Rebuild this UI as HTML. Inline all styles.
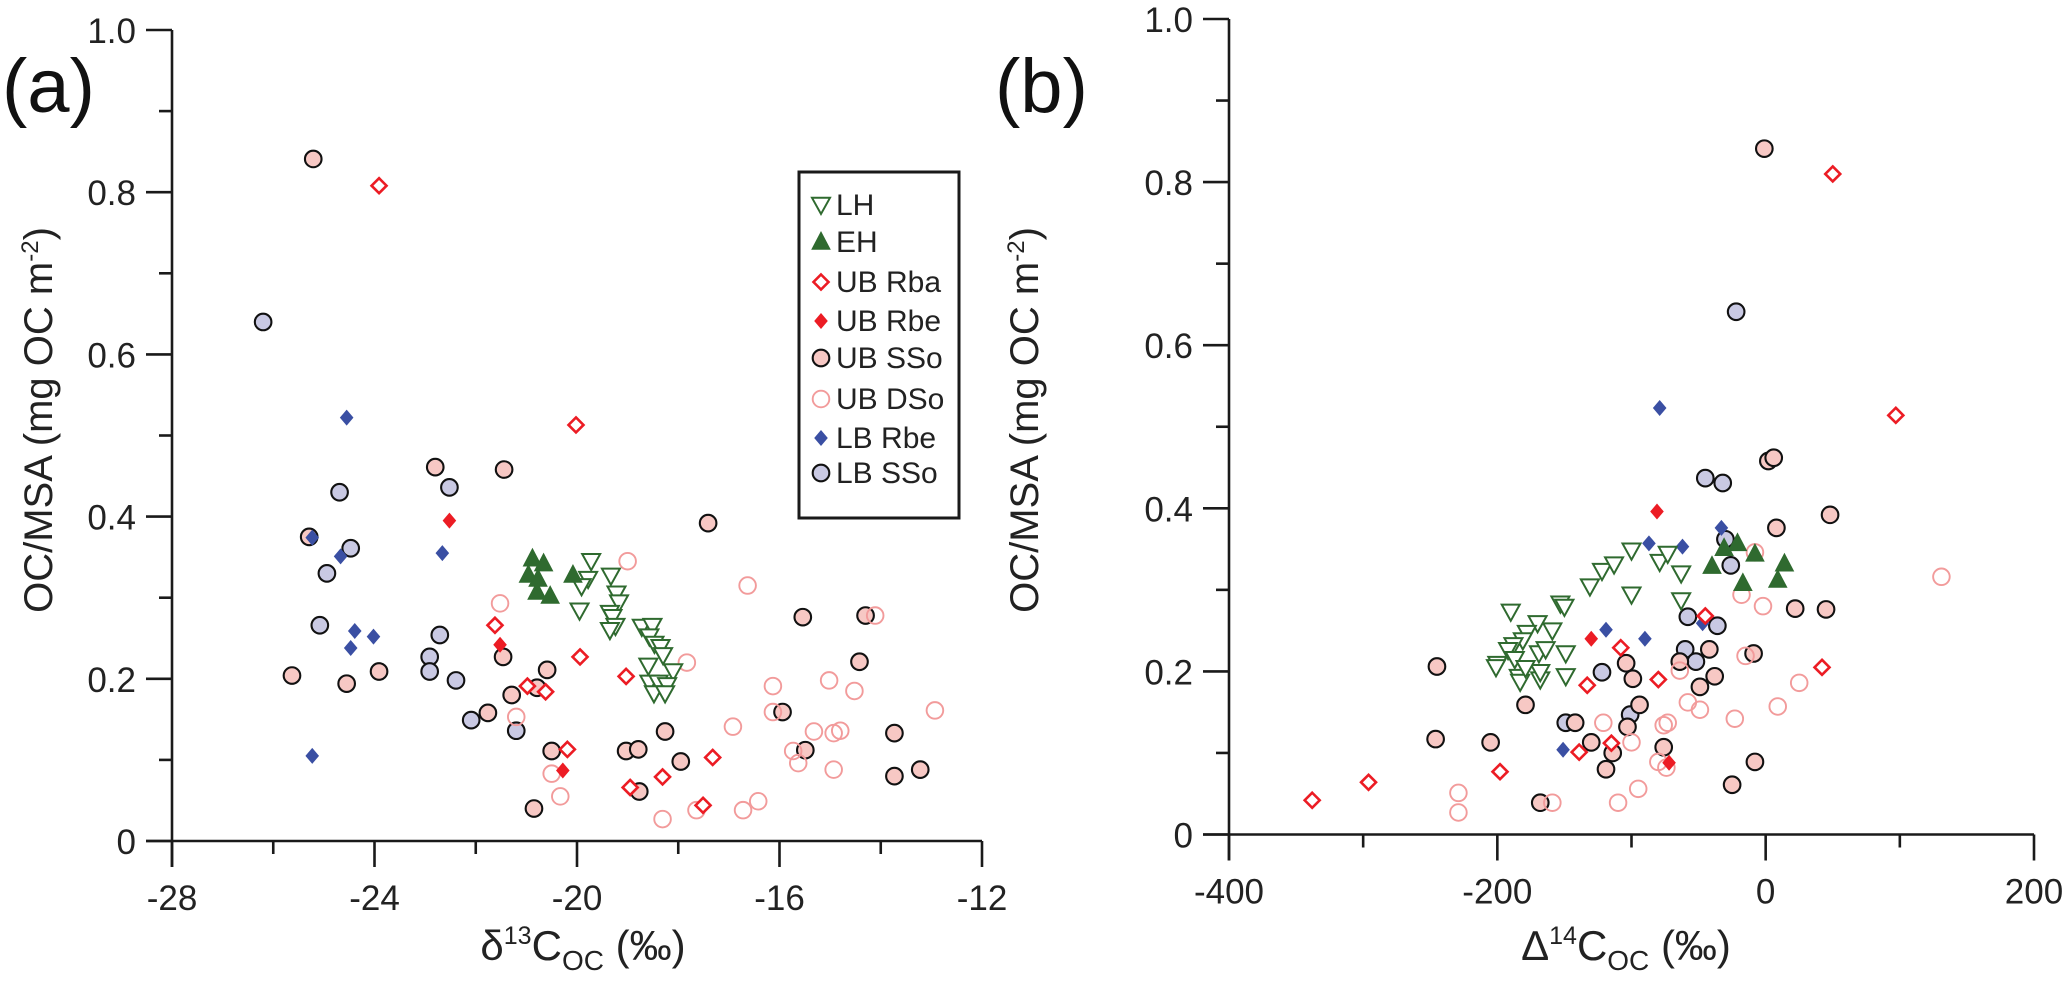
<!DOCTYPE html>
<html><head><meta charset="utf-8"><style>
html,body{margin:0;padding:0;background:#fff;}
svg{display:block;font-family:"Liberation Sans",Arial,sans-serif;}
</style></head><body>
<svg id="chart" width="2066" height="994" viewBox="0 0 2066 994" xmlns="http://www.w3.org/2000/svg"></svg>
<script>
// ---------- data: panel (a) δ13C vs OC/MSA ----------
const aLH_x=[-19.72,-19.78,-19.91,-19.33,-19.22,-19.17,-19.35,-19.30,-19.95,-19.24,-19.35,-18.72,-18.51,-18.57,-18.47,-18.35,-18.30,-18.59,-18.10,-18.57,-18.39,-18.22,-18.48,-18.26];
const aLH_y=[0.345,0.323,0.314,0.327,0.305,0.294,0.281,0.276,0.284,0.265,0.260,0.264,0.265,0.252,0.243,0.239,0.229,0.216,0.209,0.195,0.195,0.192,0.182,0.182];
const aEH_x=[-20.88,-20.66,-20.96,-20.77,-20.79,-20.53,-20.08];
const aEH_y=[0.348,0.342,0.328,0.323,0.307,0.302,0.328];
const aRba_x=[-23.91,-20.02,-21.62,-19.94,-19.03,-20.98,-20.62,-20.19,-18.95,-18.31,-17.32,-17.51];
const aRba_y=[0.808,0.513,0.266,0.227,0.203,0.191,0.184,0.113,0.066,0.079,0.103,0.044];
const aRbe_x=[-22.52,-21.52,-20.28];
const aRbe_y=[0.395,0.242,0.087];
const aSSo_x=[-25.21,-25.29,-22.80,-21.44,-25.63,-24.55,-23.91,-21.76,-21.46,-21.29,-20.59,-20.79,-20.50,-20.85,-19.03,-18.79,-18.77,-18.26,-17.95,-17.41,-15.54,-15.94,-15.49,-14.42,-14.30,-13.73,-13.73,-13.22];
const aSSo_y=[0.841,0.375,0.461,0.458,0.204,0.194,0.209,0.158,0.227,0.180,0.211,0.189,0.111,0.040,0.111,0.113,0.061,0.135,0.098,0.392,0.276,0.159,0.112,0.221,0.278,0.133,0.080,0.088];
const aDSo_x=[-19.00,-21.52,-21.20,-20.50,-20.33,-17.83,-16.92,-16.63,-16.42,-16.72,-17.64,-18.31,-16.13,-16.13,-15.73,-15.63,-15.32,-15.02,-14.93,-14.80,-14.93,-14.52,-14.11,-12.93];
const aDSo_y=[0.345,0.293,0.153,0.083,0.055,0.220,0.141,0.315,0.049,0.038,0.038,0.027,0.191,0.159,0.111,0.096,0.135,0.198,0.133,0.136,0.088,0.185,0.278,0.161];
const aLBRbe_x=[-24.55,-25.23,-24.67,-22.66,-24.39,-24.02,-24.47,-25.23];
const aLBRbe_y=[0.522,0.374,0.351,0.355,0.259,0.252,0.238,0.105];
const aLBSSo_x=[-26.20,-24.69,-24.47,-24.94,-25.08,-22.52,-22.71,-22.91,-22.91,-22.39,-22.09,-21.20];
const aLBSSo_y=[0.640,0.430,0.361,0.330,0.266,0.436,0.254,0.227,0.209,0.198,0.149,0.136];
// ---------- data: panel (b) Δ14C vs OC/MSA ----------
const bLH_x=[-190,-200,-201,-184,-183,-168,-168,-169,-164,-159,-170,-178,-181,-188,-192,-187,-179,-149,-149,-153,-150,-131,-122,-113,-100,-100,-79,-73,-63,-63];
const bLH_y=[0.273,0.209,0.205,0.193,0.187,0.190,0.199,0.222,0.227,0.250,0.259,0.247,0.238,0.232,0.226,0.215,0.204,0.222,0.194,0.283,0.279,0.304,0.323,0.331,0.348,0.294,0.334,0.344,0.320,0.287];
const bEH_x=[-40,-31,-21,-8,-17,14,9];
const bEH_y=[0.329,0.351,0.357,0.344,0.308,0.332,0.312];
const bRba_x=[50,97,-45,42,-108,-80,-133,-115,-139,-198,-296,-338];
const bRba_y=[0.810,0.514,0.268,0.205,0.229,0.190,0.183,0.112,0.101,0.077,0.064,0.042];
const bRbe_x=[-81,-130,-72];
const bRbe_y=[0.396,0.240,0.088];
const bSSo_x=[-1,2,6,8,48,22,45,-9,-42,-64,-104,-99,-49,-38,-94,-103,-142,-179,-245,-246,-205,-130,-114,-119,-76,-168,-25,-8];
const bSSo_y=[0.841,0.458,0.462,0.376,0.392,0.277,0.276,0.222,0.227,0.212,0.210,0.191,0.181,0.194,0.159,0.132,0.137,0.159,0.206,0.117,0.113,0.113,0.100,0.080,0.107,0.039,0.061,0.089];
const bDSo_x=[-8,-18,-2,-15,131,25,9,-23,-58,-49,-64,-76,-73,-80,-74,-121,-100,-95,-110,-159,-229,-229];
const bDSo_y=[0.346,0.294,0.280,0.219,0.316,0.186,0.157,0.142,0.162,0.153,0.201,0.134,0.137,0.089,0.082,0.137,0.113,0.056,0.039,0.039,0.051,0.027];
const bLBRbe_x=[-79,-33,-87,-62,-119,-90,-47,-151];
const bLBRbe_y=[0.523,0.376,0.357,0.353,0.251,0.240,0.259,0.104];
const bLBSSo_x=[-22,-45,-32,-30,-26,-58,-36,-60,-52,-122,-101,-149];
const bLBSSo_y=[0.641,0.437,0.431,0.362,0.330,0.267,0.256,0.227,0.212,0.199,0.147,0.137];
// ticks
const aXTicks=[-28,-24,-20,-16,-12];
const aXMinor=[-26,-22,-18,-14];
const bXTicks=[-400,-200,0,200];
const bXMinor=[-300,-100,100];
const yTicks=[0,0.2,0.4,0.6,0.8,1.0];
const yMinor=[0.1,0.3,0.5,0.7,0.9];
const legendLabels=["LH","EH","UB Rba","UB Rbe","UB SSo","UB DSo","LB Rbe","LB SSo"];

const NS="http://www.w3.org/2000/svg";
const svg=document.getElementById('chart');
function el(tag,attrs,parent){const e=document.createElementNS(NS,tag);for(const k in attrs)e.setAttribute(k,attrs[k]);(parent||svg).appendChild(e);return e;}

const GREEN="#2f6a2f",RED="#ec1c24",BLUE="#3a4fa3",PINK="#f7c8c4",LAV="#c9c9e3",OPINK="#f29b9b";
function drawMarker(g,type,cx,cy){
  let m;
  if(type==="LH"){const s=9;m=el('polygon',{points:`${cx-s},${cy-s*0.8} ${cx+s},${cy-s*0.8} ${cx},${cy+s*1.0}`,fill:'#fff',stroke:GREEN,'stroke-width':2},g);}
  else if(type==="EH"){const s=9;m=el('polygon',{points:`${cx-s},${cy+s*0.8} ${cx+s},${cy+s*0.8} ${cx},${cy-s*1.1}`,fill:GREEN,stroke:GREEN,'stroke-width':1},g);}
  else if(type==="Rba"){const s=7.5;m=el('polygon',{points:`${cx},${cy-s} ${cx+s},${cy} ${cx},${cy+s} ${cx-s},${cy}`,fill:'#fff',stroke:RED,'stroke-width':2.6},g);}
  else if(type==="Rbe"){const s=8;m=el('polygon',{points:`${cx},${cy-s} ${cx+s*0.85},${cy} ${cx},${cy+s} ${cx-s*0.85},${cy}`,fill:RED},g);}
  else if(type==="LBRbe"){const s=8;m=el('polygon',{points:`${cx},${cy-s} ${cx+s*0.85},${cy} ${cx},${cy+s} ${cx-s*0.85},${cy}`,fill:BLUE},g);}
  else if(type==="SSo"){m=el('circle',{cx:cx,cy:cy,r:8.3,fill:PINK,stroke:'#111','stroke-width':2.1},g);}
  else if(type==="DSo"){m=el('circle',{cx:cx,cy:cy,r:8.3,fill:'none',stroke:OPINK,'stroke-width':1.9},g);}
  else if(type==="LBSSo"){m=el('circle',{cx:cx,cy:cy,r:8.3,fill:LAV,stroke:'#111','stroke-width':2.1},g);}
  return m;
}

function panel(cfg){
  const g=el('g',{});
  
  
  const X=v=>cfg.x0+(v-cfg.xmin)*(cfg.x1-cfg.x0)/(cfg.xmax-cfg.xmin);
  const Y=v=>cfg.y0-v*(cfg.y0-cfg.y1);
  const ya=el('line',{x1:cfg.x0,y1:cfg.y1,x2:cfg.x0,y2:cfg.y0+26,stroke:'#1a1a1a','stroke-width':2.6},g);
  
  const xa=el('line',{x1:cfg.x0-26,y1:cfg.y0,x2:cfg.x1,y2:cfg.y0,stroke:'#1a1a1a','stroke-width':2.6},g);
  
  cfg.xt.forEach(v=>{
    el('line',{x1:X(v),y1:cfg.y0,x2:X(v),y2:cfg.y0+26,stroke:'#1a1a1a','stroke-width':2.6},g);
    const t=el('text',{x:X(v),y:cfg.y0+69,'font-size':35,'text-anchor':'middle',fill:'#222'},g);
    t.textContent=String(v);
    
  });
  cfg.xm.forEach(v=>{el('line',{x1:X(v),y1:cfg.y0,x2:X(v),y2:cfg.y0+13,stroke:'#1a1a1a','stroke-width':2.6},g);});
  yTicks.forEach(v=>{
    el('line',{x1:cfg.x0-26,y1:Y(v),x2:cfg.x0,y2:Y(v),stroke:'#1a1a1a','stroke-width':2.6},g);
    const t=el('text',{x:cfg.x0-36,y:Y(v)+13,'font-size':35,'text-anchor':'end',fill:'#222'},g);
    t.textContent=v===0?'0':v.toFixed(1);
    
  });
  yMinor.forEach(v=>{el('line',{x1:cfg.x0-13,y1:Y(v),x2:cfg.x0,y2:Y(v),stroke:'#1a1a1a','stroke-width':2.6},g);});
  cfg.series.forEach(s=>{
    const sg=el('g',{},g);
    
    
    s.x.forEach((xv,i)=>{
      const m=drawMarker(sg,s.type,X(xv),Y(s.y[i]));
      
      
    });
  });
  const xt=el('text',{x:cfg.xtx,y:960,'font-size':42,'text-anchor':'middle',fill:'#222'},g);
  
  xt.innerHTML=cfg.xlabel+'<tspan font-size="25" dy="-16">'+cfg.sup+'</tspan><tspan dy="16">C</tspan><tspan font-size="28" dy="10">OC</tspan><tspan dy="-10"> (‰)</tspan>';
  const yt=el('text',{x:0,y:0,'font-size':40,'text-anchor':'middle',fill:'#222',transform:`translate(${cfg.ytx},${cfg.yty}) rotate(-90)`},g);
  
  yt.innerHTML='OC/MSA (mg OC m<tspan font-size="24" dy="-14">-2</tspan><tspan dy="14">)</tspan>';
  const pl=el('text',{x:cfg.plx,y:112,'font-size':76,fill:'#111'},g);
  pl.textContent=cfg.plabel;
  
}

panel({name:'panel-a',x0:172,x1:982,xmin:-28,xmax:-12,y0:841,y1:30,xt:aXTicks,xm:aXMinor,
  xlabel:'δ',sup:'13',xtx:583,ytx:52,yty:420,plabel:'(a)',plx:2,
  series:[
    {name:'lb-sso',type:'LBSSo',x:aLBSSo_x,y:aLBSSo_y},
    {name:'ub-sso',type:'SSo',x:aSSo_x,y:aSSo_y},
    {name:'ub-dso',type:'DSo',x:aDSo_x,y:aDSo_y},
    {name:'lb-rbe',type:'LBRbe',x:aLBRbe_x,y:aLBRbe_y},
    {name:'ub-rba',type:'Rba',x:aRba_x,y:aRba_y},
    {name:'ub-rbe',type:'Rbe',x:aRbe_x,y:aRbe_y},
    {name:'lh',type:'LH',x:aLH_x,y:aLH_y},
    {name:'eh',type:'EH',x:aEH_x,y:aEH_y}
  ]});
panel({name:'panel-b',x0:1229,x1:2034,xmin:-400,xmax:200,y0:834.5,y1:19,xt:bXTicks,xm:bXMinor,
  xlabel:'Δ',sup:'14',xtx:1626,ytx:1038,yty:420,plabel:'(b)',plx:995,
  series:[
    {name:'lb-sso',type:'LBSSo',x:bLBSSo_x,y:bLBSSo_y},
    {name:'ub-sso',type:'SSo',x:bSSo_x,y:bSSo_y},
    {name:'ub-dso',type:'DSo',x:bDSo_x,y:bDSo_y},
    {name:'lb-rbe',type:'LBRbe',x:bLBRbe_x,y:bLBRbe_y},
    {name:'ub-rba',type:'Rba',x:bRba_x,y:bRba_y},
    {name:'ub-rbe',type:'Rbe',x:bRbe_x,y:bRbe_y},
    {name:'lh',type:'LH',x:bLH_x,y:bLH_y},
    {name:'eh',type:'EH',x:bEH_x,y:bEH_y}
  ]});

const lg=el('g',{});


el('rect',{x:799,y:172,width:160,height:346,fill:'#fff',stroke:'#1a1a1a','stroke-width':3},lg);
const legTypes=["LH","EH","Rba","Rbe","SSo","DSo","LBRbe","LBSSo"];
const legY=[205,242,282,321,358,399,438,473];
legendLabels.forEach((lab,i)=>{
  const eg=el('g',{},lg);
  
  
  drawMarker(eg,legTypes[i],821,legY[i]);
  const t=el('text',{x:836,y:legY[i]+10,'font-size':30,fill:'#222'},eg);
  t.textContent=lab;
});
</script>
</body></html>
